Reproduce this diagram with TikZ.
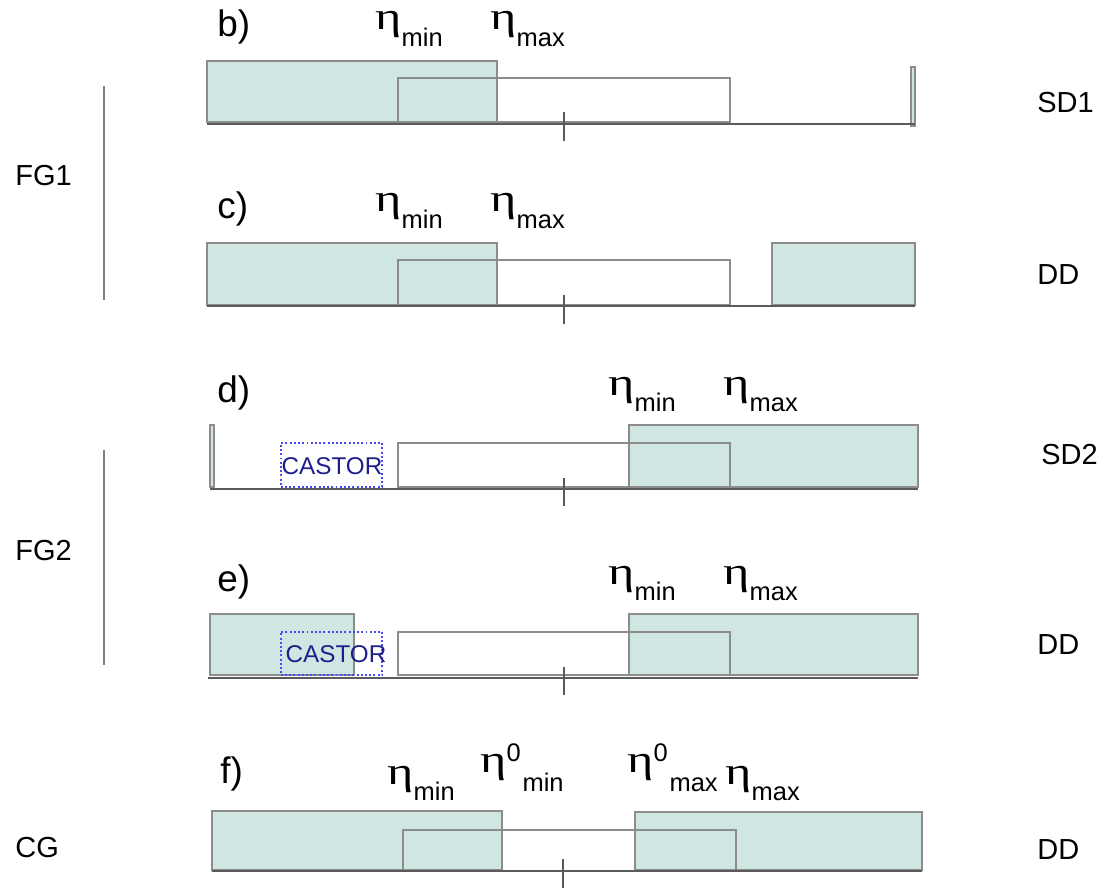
\documentclass[tikz,border=0pt]{standalone}
\usepackage{fontspec}
\setmainfont{Liberation Sans}
\newfontfamily\etafont{Liberation Serif}
\definecolor{gfill}{HTML}{CFE6E3}
\definecolor{boxgray}{HTML}{8C8C8C}
\definecolor{basegray}{HTML}{5A5A5A}
\definecolor{castorblue}{HTML}{4A4AF5}
\definecolor{castortext}{HTML}{1E1E8C}
\newcommand{\etaglyph}{\scalebox{1.3}[1]{\fontsize{22}{22}\etafont η}}
\newcommand{\subtxt}[1]{{\fontsize{14.5}{14.5}\selectfont #1}}
\newcommand{\etaS}[1]{\etaglyph\raisebox{-9.6pt}{\subtxt{#1}}}
\newcommand{\etaSS}[2]{\etaglyph\raisebox{5.7pt}{\subtxt{#1}}\hspace{1pt}\raisebox{-11.3pt}{\subtxt{#2}}}
\newlength\pxu
\setlength\pxu{0.5669pt}
\tikzset{
  gbox/.style={fill=gfill, draw=boxgray, line width=0.8pt},
  wbox/.style={draw=boxgray, line width=0.8pt},
  baseln/.style={draw=basegray, line width=1.3pt},
  tickln/.style={draw=basegray, line width=0.8pt},
  grpln/.style={draw=gray, line width=1.1pt},
  castorbox/.style={draw=castorblue, line width=1.1pt, dash pattern=on 1.1pt off 1.3pt, inner sep=0pt, minimum width=102\pxu, minimum height=44\pxu},
  castortxt/.style={text=castortext, font=\fontsize{13.8}{13.8}\selectfont, inner sep=0pt},
  panellab/.style={font=\fontsize{21}{21}\selectfont, anchor=base west, inner sep=0pt},
  etalab/.style={anchor=base west, inner sep=0pt, text height=10pt, text depth=12pt},
  sidelab/.style={font=\fontsize{16.5}{16.5}\selectfont, anchor=west, inner sep=0pt},
}
\begin{document}
\begin{tikzpicture}[x=0.02cm, y=-0.02cm]
\useasboundingbox (0,0) rectangle (1098,888);

% ---------- panel b ----------
\draw[gbox] (207,61) rectangle (497,122);
\draw[wbox] (398,78) rectangle (730,122);
\draw[gbox] (911,67) rectangle (915,126);
\coordinate (b1) at (207,124); \coordinate (b2) at (915,124);
\draw[baseln] (b1) -- (b2);
\coordinate (bt1) at (564,112); \coordinate (bt2) at (564,141);
\draw[tickln] (bt1) -- (bt2);
\node[panellab] (lb) at (217,37) {b)};
\node[etalab] (bmin) at (375,30) {\etaS{min}};
\node[etalab] (bmax) at (490,30) {\etaS{max}};
\node[sidelab] (sd1) at (1037,103) {SD1};

% ---------- panel c ----------
\draw[gbox] (207,243) rectangle (497,305);
\draw[wbox] (398,260) rectangle (730,305);
\draw[gbox] (772,243) rectangle (915,305);
\coordinate (c1) at (207,306); \coordinate (c2) at (915,306);
\draw[baseln] (c1) -- (c2);
\coordinate (ct1) at (564,295); \coordinate (ct2) at (564,324);
\draw[tickln] (ct1) -- (ct2);
\node[panellab] (lc) at (217,219) {c)};
\node[etalab] (cmin) at (375,212) {\etaS{min}};
\node[etalab] (cmax) at (490,212) {\etaS{max}};
\node[sidelab] (dd1) at (1037,275) {DD};

% FG1
\coordinate (f1a) at (104,86); \coordinate (f1b) at (104,300);
\draw[grpln] (f1a) -- (f1b);
\node[sidelab] (fg1) at (15,176) {FG1};

% ---------- panel d ----------
\draw[gbox] (210,425) rectangle (214,487);
\draw[wbox] (398,443) rectangle (730,487);
\draw[gbox] (629,425) rectangle (918,487);
\draw[wbox] (629,443) -- (730,443) -- (730,487);
\node[castorbox] (cas1) at (331.5,465) {};
\node[castortxt] (cas1t) at (332,466) {CASTOR};
\coordinate (d1) at (210,489); \coordinate (d2) at (918,489);
\draw[baseln] (d1) -- (d2);
\coordinate (dt1) at (564,478); \coordinate (dt2) at (564,506);
\draw[tickln] (dt1) -- (dt2);
\node[panellab] (ld) at (217,402) {d)};
\node[etalab] (dmin) at (608,395) {\etaS{min}};
\node[etalab] (dmax) at (723,395) {\etaS{max}};
\node[sidelab] (sd2) at (1041,455) {SD2};

% ---------- panel e ----------
\draw[gbox] (210,614) rectangle (354,675);
\draw[wbox] (398,632) rectangle (730,675);
\draw[gbox] (629,614) rectangle (918,675);
\draw[wbox] (629,632) -- (730,632) -- (730,675);
\node[castorbox] (cas2) at (331.5,653.5) {};
\node[castortxt] (cas2t) at (336,654) {CASTOR};
\coordinate (e1) at (208,678); \coordinate (e2) at (918,678);
\draw[baseln] (e1) -- (e2);
\coordinate (et1) at (564,667); \coordinate (et2) at (564,695);
\draw[tickln] (et1) -- (et2);
\node[panellab] (le) at (217,591) {e)};
\node[etalab] (emin) at (608,584) {\etaS{min}};
\node[etalab] (emax) at (723,584) {\etaS{max}};
\node[sidelab] (dd2) at (1037,645) {DD};

% FG2
\coordinate (f2a) at (104,450); \coordinate (f2b) at (104,665);
\draw[grpln] (f2a) -- (f2b);
\node[sidelab] (fg2) at (15,551) {FG2};

% ---------- panel f ----------
\draw[gbox] (212,811) rectangle (502,870);
\draw[gbox] (635,812) rectangle (922,870);
\draw[wbox] (403,830) rectangle (736,871);
\coordinate (g1) at (212,871); \coordinate (g2) at (922,871);
\draw[baseln] (g1) -- (g2);
\coordinate (gt1) at (563,859); \coordinate (gt2) at (563,888);
\draw[tickln] (gt1) -- (gt2);
\node[panellab] (lf) at (220,783) {f)};
\node[etalab] (fmin) at (387,784) {\etaS{min}};
\node[etalab] (f0min) at (480,772) {\etaSS{0}{min}};
\node[etalab] (f0max) at (627,772) {\etaSS{0}{max}};
\node[etalab] (fmax) at (725,784) {\etaS{max}};
\node[sidelab] (dd3) at (1037,850) {DD};
\node[sidelab] (cg) at (15,848) {CG};
\end{tikzpicture}
\end{document}
